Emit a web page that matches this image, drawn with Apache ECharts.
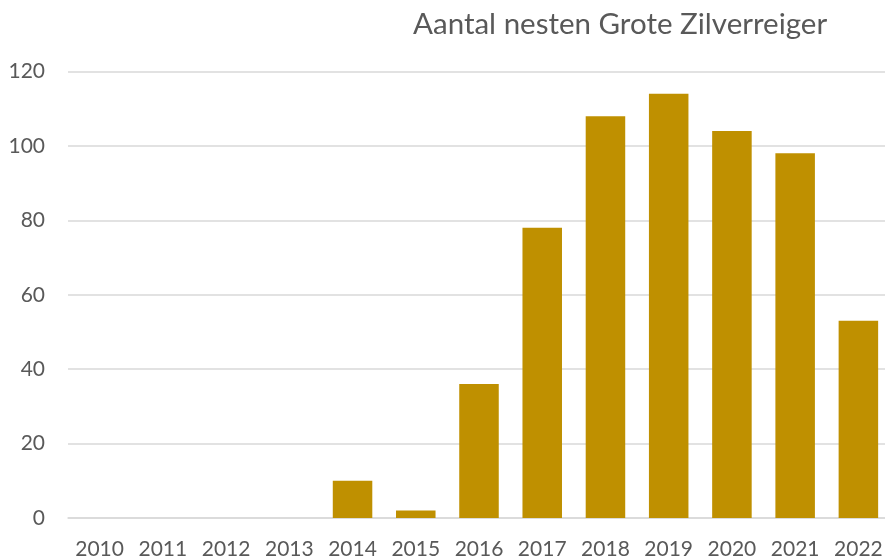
<!DOCTYPE html>
<html>
<head>
<meta charset="utf-8">
<script src="https://cdn.jsdelivr.net/npm/echarts@6/dist/echarts.min.js"></script>
<style>
  html, body { margin: 0; padding: 0; background: #fff; }
  #chart { width: 885px; height: 560px; }
</style>
</head>
<body>
<div id="chart"></div>
<script>
// jaren en aantallen
var years = ['2010', '2011', '2012', '2013', '2014', '2015', '2016', '2017', '2018', '2019', '2020', '2021', '2022'];
var nests = [0, 0, 0, 0, 10, 2, 36, 78, 108, 114, 104, 98, 53];
var titleText = 'Aantal nesten Grote Zilverreiger';

var chart = echarts.init(document.getElementById('chart'));

var option = {
  animation: false,
  title: {
    text: titleText,
    left: 408,
    top: 4,
    textStyle: {
      fontFamily: 'Lato',
      fontSize: 29.5,
      fontWeight: 'normal',
      color: '#595959'
    }
  },
  grid: {
    left: 68,
    width: 822,
    top: 71.5,
    bottom: 42,
    outerBoundsMode: 'none'
  },
  xAxis: {
    type: 'category',
    data: years,
    axisTick: { show: false },
    axisLine: { lineStyle: { color: '#D9D9D9', width: 1.5 } },
    axisLabel: {
      margin: 21,
      fontFamily: 'Lato',
      fontSize: 21,
      color: '#595959',
      interval: 0
    }
  },
  yAxis: {
    type: 'value',
    min: 0,
    max: 120,
    interval: 20,
    axisLine: { show: false },
    axisTick: { show: false },
    splitLine: { lineStyle: { color: '#D9D9D9', width: 1.5 } },
    axisLabel: {
      margin: 23,
      fontFamily: 'Lato',
      fontSize: 21,
      color: '#595959'
    }
  },
  series: [{
    type: 'bar',
    data: nests,
    barWidth: '62.5%',
    itemStyle: { color: '#BF9000' }
  }]
};

chart.setOption(option);
</script>
</body>
</html>
